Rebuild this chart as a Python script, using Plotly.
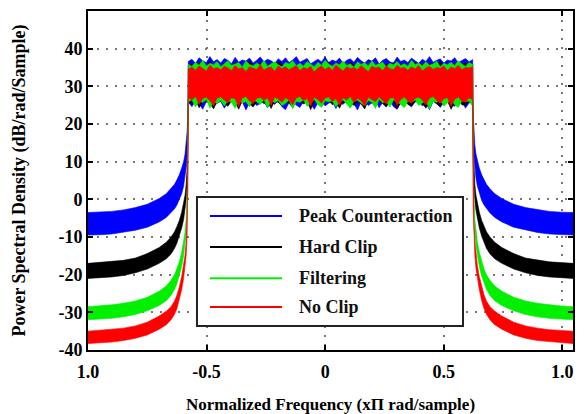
import numpy as np
import plotly.graph_objects as go

# ---------------- data ----------------
series_names = ["Peak Counteraction", "Hard Clip", "Filtering", "No Clip"]
series_colors = ["#0000ff", "#000000", "#00f000", "#ff0000"]

# out-of-band frequencies, left side (far -> band edge) and right side (band edge -> far)
tail_left_x = [-1.0, -0.95, -0.9, -0.85, -0.8, -0.75, -0.7, -0.67, -0.65, -0.635,
               -0.625, -0.615, -0.605, -0.597, -0.591, -0.586, -0.582, -0.579]
tail_right_x = [0.624, 0.627, 0.631, 0.636, 0.642, 0.65, 0.66, 0.67, 0.68, 0.695,
                0.715, 0.745, 0.795, 0.845, 0.895, 0.945, 0.995, 1.045]
band_edges = [-0.577, 0.622]

# out-of-band envelopes (dB), left side far -> edge (right side is the mirror)
pc_tail_hi = [-3.5, -3.4, -3.2, -2.8, -2.2, -1.3, 0.2, 1.5, 2.8, 4.0, 5.2, 6.5, 8.3, 10.0, 12.0, 14.5, 18.0, 23.0]
pc_tail_lo = [-9.5, -9.4, -9.2, -8.8, -8.2, -7.4, -6.0, -4.8, -3.6, -2.5, -1.5, -0.3, 1.5, 3.5, 5.5, 8.5, 12.0, 18.0]
hc_tail_hi = [-17.0, -16.8, -16.6, -16.2, -15.6, -14.4, -12.8, -11.4, -10.0, -8.6, -7.2, -5.6, -3.4, -1.2, 1.0, 4.0, 8.0, 15.0]
hc_tail_lo = [-21.0, -20.8, -20.6, -20.2, -19.5, -18.5, -17.0, -15.8, -14.5, -13.0, -11.6, -9.8, -7.6, -5.4, -3.0, 0.0, 4.0, 11.0]
fi_tail_hi = [-28.5, -28.3, -28.0, -27.6, -27.0, -26.0, -24.4, -23.0, -21.5, -20.0, -18.5, -16.6, -14.0, -11.4, -8.8, -5.2, 0.0, 8.0]
fi_tail_lo = [-32.0, -31.8, -31.6, -31.2, -30.6, -29.6, -28.2, -26.9, -25.5, -23.9, -22.4, -20.4, -17.8, -15.0, -12.4, -8.8, -3.0, 4.0]
nc_tail_hi = [-35.0, -34.8, -34.6, -34.2, -33.6, -32.6, -31.0, -29.7, -28.5, -27.0, -25.4, -23.3, -20.5, -17.6, -15.0, -11.2, -6.0, 2.0]
nc_tail_lo = [-38.3, -38.1, -37.9, -37.5, -36.9, -36.0, -34.5, -33.3, -32.0, -30.5, -29.0, -26.9, -24.0, -21.0, -18.4, -14.8, -9.5, -2.0]

# in-band envelopes (dB), sampled evenly across the pass band
pc_band_hi = [36.6, 37.2, 36.1, 37.6, 36.8, 36.3, 37.9, 36.5, 37.1, 36.2,
              37.4, 36.9, 36.0, 37.7, 36.4, 37.0, 36.7, 37.5, 36.2, 36.9,
              37.8, 36.5, 37.2, 36.8, 36.1, 37.3, 36.6, 37.6, 36.3, 37.0,
              37.9, 36.4, 36.9, 37.4, 36.0, 36.7, 37.2, 36.5, 37.8, 36.3,
              37.0, 36.6, 37.5, 36.1, 36.9, 37.3, 36.4, 37.7, 36.8, 36.2,
              37.1, 36.7, 37.6, 36.0, 36.9, 37.4, 36.5, 36.2, 37.8, 36.6,
              37.0, 36.3, 37.5, 36.8, 36.1, 37.2, 36.6, 37.9, 36.4, 36.9,
              37.3, 36.2, 37.0, 36.7, 37.6, 36.3, 36.8, 37.4, 36.5, 37.1]
pc_band_lo = [25.8, 24.6, 26.1, 25.4, 23.9, 25.9, 26.2, 24.8, 25.5, 26.0,
              24.2, 25.7, 26.3, 25.1, 24.7, 25.9, 23.7, 25.6, 26.1, 24.9,
              25.4, 26.0, 24.3, 25.8, 25.2, 26.2, 24.6, 23.8, 25.7, 26.0,
              25.0, 24.4, 25.9, 26.3, 25.3, 23.9, 25.6, 26.1, 24.8, 25.5,
              26.0, 24.1, 25.8, 25.2, 26.2, 24.7, 25.4, 23.7, 25.9, 26.1,
              24.9, 25.6, 26.3, 24.3, 25.7, 25.1, 26.0, 24.6, 23.9, 25.8,
              26.2, 25.3, 24.5, 25.9, 26.1, 24.8, 25.5, 23.8, 26.0, 25.4,
              24.4, 25.7, 26.2, 25.0, 24.7, 25.9, 26.1, 24.2, 25.6, 25.8]
hc_band_hi = [35.4, 35.9, 35.1, 36.3, 35.6, 35.0, 36.6, 35.3, 35.8, 35.2,
              36.1, 35.5, 34.9, 36.4, 35.7, 35.2, 35.9, 36.7, 35.4, 35.0,
              36.2, 35.6, 35.3, 36.0, 35.1, 36.5, 35.5, 35.8, 34.9, 36.3,
              35.4, 35.9, 35.2, 36.6, 35.6, 35.0, 36.1, 35.3, 35.7, 36.4,
              35.1, 35.8, 36.2, 35.4, 34.9, 36.5, 35.6, 35.2, 35.9, 36.0,
              35.3, 36.7, 35.5, 35.0, 36.1, 35.7, 35.4, 36.3, 35.2, 35.8,
              36.0, 35.1, 35.6, 36.4, 35.3, 35.9, 34.9, 36.2, 35.5, 35.7,
              36.6, 35.2, 35.8, 35.4, 36.1, 35.0, 35.6, 36.3, 35.3, 35.9]
hc_band_lo = [26.1, 25.2, 26.4, 24.3, 25.9, 26.2, 25.5, 24.0, 26.0, 26.3,
              25.6, 24.7, 26.1, 25.8, 23.9, 26.2, 26.4, 25.3, 24.5, 25.9,
              26.3, 25.4, 26.0, 24.1, 26.2, 25.7, 25.0, 26.1, 25.5, 24.4,
              26.0, 26.4, 25.3, 25.9, 23.8, 26.2, 25.6, 24.6, 26.0, 26.3,
              25.1, 25.8, 24.2, 26.1, 25.5, 26.4, 24.9, 25.9, 25.3, 24.0,
              26.2, 25.7, 25.0, 26.3, 25.4, 24.5, 26.0, 26.1, 24.1, 25.6,
              26.3, 25.2, 24.8, 25.9, 26.2, 25.5, 24.2, 26.0, 26.4, 25.3,
              24.7, 25.8, 26.1, 23.9, 25.7, 26.3, 25.1, 24.9, 26.0, 25.6]
fi_band_hi = [35.8, 35.3, 36.4, 35.6, 36.9, 35.4, 36.1, 35.7, 36.6, 35.2,
              36.0, 36.8, 35.5, 35.9, 36.3, 35.1, 36.7, 35.8, 35.4, 36.2,
              35.6, 36.9, 35.3, 36.0, 36.5, 35.7, 35.2, 36.3, 35.9, 36.8,
              35.5, 36.1, 35.4, 36.6, 35.8, 35.2, 36.4, 35.6, 36.9, 35.9,
              35.3, 36.2, 35.7, 36.7, 35.5, 36.0, 35.1, 36.5, 35.8, 36.3,
              35.4, 36.8, 35.6, 35.9, 36.4, 35.2, 36.1, 35.7, 36.6, 35.5,
              36.0, 35.3, 36.9, 35.8, 36.2, 35.4, 36.5, 35.6, 35.9, 36.7,
              35.2, 36.1, 35.7, 36.4, 35.5, 36.8, 35.9, 35.3, 36.3, 35.8]
fi_band_lo = [25.9, 26.4, 24.5, 26.1, 25.7, 26.5, 24.2, 26.0, 25.4, 26.3,
              24.8, 26.2, 25.8, 24.1, 26.4, 25.6, 26.0, 24.6, 26.3, 25.9,
              25.2, 26.5, 24.3, 26.1, 25.7, 26.2, 24.9, 25.5, 26.4, 24.0,
              26.0, 25.8, 26.3, 24.7, 25.6, 26.5, 25.1, 24.4, 26.2, 25.9,
              26.1, 24.6, 25.7, 26.4, 25.3, 24.2, 26.0, 26.3, 25.5, 24.8,
              26.2, 25.8, 24.1, 26.5, 25.6, 26.0, 24.5, 26.3, 25.9, 25.2,
              24.3, 26.1, 25.7, 26.4, 24.9, 25.5, 26.2, 24.0, 26.0, 25.8,
              26.3, 24.7, 25.6, 26.5, 25.1, 24.4, 26.2, 25.9, 26.1, 24.6]
nc_band_hi = [34.6, 35.1, 34.3, 35.4, 34.8, 34.1, 35.6, 34.7, 35.0, 34.4,
              35.3, 34.9, 34.2, 35.5, 34.6, 35.0, 33.9, 35.2, 34.8, 34.5,
              35.7, 34.3, 34.9, 35.1, 34.0, 35.4, 34.7, 35.2, 34.4, 34.9,
              35.5, 34.2, 35.0, 34.6, 35.3, 33.8, 34.9, 35.4, 34.5, 35.1,
              34.3, 35.6, 34.8, 34.1, 35.2, 34.7, 35.0, 34.4, 35.5, 34.6,
              33.9, 35.3, 34.9, 35.1, 34.2, 35.4, 34.7, 34.4, 35.6, 34.8,
              35.0, 34.3, 35.2, 34.6, 35.5, 34.1, 34.9, 35.3, 34.5, 35.0,
              34.8, 35.4, 34.2, 35.1, 34.7, 35.6, 34.4, 35.0, 34.9, 35.2]
nc_band_lo = [27.0, 26.4, 27.3, 25.2, 26.8, 27.1, 26.2, 24.8, 26.9, 27.2,
              26.5, 25.6, 27.0, 26.7, 24.6, 26.9, 27.3, 26.1, 25.4, 26.8,
              27.1, 26.3, 26.9, 24.9, 27.2, 26.6, 25.8, 27.0, 26.4, 25.1,
              26.9, 27.3, 26.2, 26.8, 24.7, 27.1, 26.5, 25.5, 26.9, 27.2,
              26.0, 26.7, 25.0, 27.0, 26.4, 27.3, 25.7, 26.8, 26.2, 24.8,
              27.1, 26.6, 25.9, 27.2, 26.3, 25.3, 26.9, 27.0, 24.9, 26.5,
              27.2, 26.1, 25.6, 26.8, 27.1, 26.4, 25.0, 26.9, 27.3, 26.2,
              25.5, 26.7, 27.0, 24.7, 26.6, 27.2, 26.0, 25.8, 26.9, 26.5]

tails_hi = [pc_tail_hi, hc_tail_hi, fi_tail_hi, nc_tail_hi]
tails_lo = [pc_tail_lo, hc_tail_lo, fi_tail_lo, nc_tail_lo]
bands_hi = [pc_band_hi, hc_band_hi, fi_band_hi, nc_band_hi]
bands_lo = [pc_band_lo, hc_band_lo, fi_band_lo, nc_band_lo]

x_tickvals = [-1.0, -0.5, 0.0, 0.5, 1.0]
x_ticktext = ["1.0", "-0.5", "0", "0.5", "1.0"]
y_tickvals = [-40, -30, -20, -10, 0, 10, 20, 30, 40]
y_ticktext = ["-40", "-30", "-20", "-10", "0", "10", "20", "30", "40"]

# ---------------- figure ----------------
FONT = "Liberation Serif, Times New Roman, serif"
fig = go.Figure()

for name, color, thi, tlo, bhi, blo in zip(series_names, series_colors,
                                          tails_hi, tails_lo, bands_hi, bands_lo):
    band_x = list(np.linspace(band_edges[0], band_edges[1], len(bhi)))
    xs = tail_left_x + band_x + tail_right_x
    hi = thi + bhi + thi[::-1]
    lo = tlo + blo + tlo[::-1]
    fig.add_trace(go.Scatter(
        x=xs + xs[::-1], y=hi + lo[::-1],
        mode="lines", fill="toself", fillcolor=color,
        line=dict(color=color, width=0.6),
        name=name, showlegend=False, hoverinfo="skip"))

# legend drawn as a boxed key (matches the original layout)
shapes = [dict(type="rect", xref="paper", yref="paper", x0=0.2247, x1=0.7732,
               y0=0.0708, y1=0.4513, line=dict(color="#222", width=2), fillcolor="white",
               layer="above")]
annotations = []
legend_y = [0.395, 0.304, 0.212, 0.127]
for name, color, ly in zip(series_names, series_colors, legend_y):
    shapes.append(dict(type="line", xref="paper", yref="paper", x0=0.2515, x1=0.40,
                       y0=ly, y1=ly, line=dict(color=color, width=2), layer="above"))
    annotations.append(dict(xref="paper", yref="paper", x=0.431, y=ly, text=name,
                            showarrow=False, xanchor="left", yanchor="middle",
                            font=dict(family=FONT, size=18, color="#111", weight="bold")))

axis_common = dict(showline=True, linecolor="black", linewidth=2, mirror="allticks",
                   ticks="inside", ticklen=5, tickwidth=1.5, tickcolor="black",
                   showgrid=True, gridcolor="#777", gridwidth=1.5, griddash="2px,7px",
                   zeroline=False, automargin=False,
                   tickfont=dict(family=FONT, size=18, color="black", weight="bold"))

fig.update_layout(
    width=585, height=414,
    margin=dict(l=88, r=12, t=11, b=64),
    paper_bgcolor="white", plot_bgcolor="white",
    showlegend=False,
    shapes=shapes, annotations=annotations,
    xaxis=dict(range=[-1.0, 1.045], tickvals=x_tickvals, ticktext=x_ticktext,
               ticklabelstandoff=4,
               title=dict(text="Normalized Frequency (xΠ rad/sample)", standoff=20,
                          font=dict(family=FONT, size=17, color="black", weight="bold")),
               **axis_common),
    yaxis=dict(range=[-40, 50], tickvals=y_tickvals, ticktext=y_ticktext,
               title=dict(text="Power Spectral Density (dB/rad/Sample)", standoff=28,
                          font=dict(family=FONT, size=18, color="black", weight="bold")),
               **axis_common),
)

fig.write_html("out.html", config={"displayModeBar": False},
               post_script="document.body.style.margin='0';document.body.style.overflow='hidden';")
